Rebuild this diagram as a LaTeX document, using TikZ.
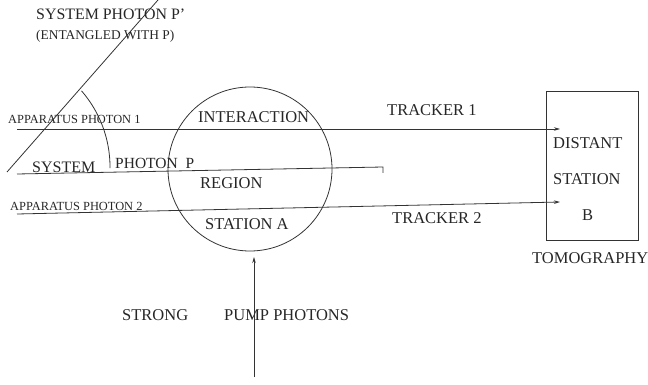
\documentclass[tikz,border=0pt]{standalone}
\usepackage{fontspec}
\setmainfont{Liberation Serif}
\usetikzlibrary{arrows.meta}
\begin{document}
\begin{tikzpicture}[x=1pt,y=-1pt,
  lbl/.style={anchor=base west,inner sep=0pt,font=\fontsize{16.5}{18}\selectfont,text=black!85},
  small/.style={anchor=base west,inner sep=0pt,font=\fontsize{12.4}{14}\selectfont,text=black!85},
  ln/.style={draw=black!80,line width=0.8pt},
  arr/.style={ln,-{Stealth[length=6pt,width=3.5pt]}}]
\useasboundingbox (0,0) rectangle (648,385);
% circle and box
\node[circle,draw=black!80,line width=0.8pt,minimum size=164pt,inner sep=0pt] (region) at (250,169) {};
\node[rectangle,draw=black!80,line width=0.8pt,minimum width=92pt,minimum height=149pt,inner sep=0pt] (boxB) at (592,165.5) {};
% coordinates
\coordinate (a1s) at (17,129);
\coordinate (a1e) at (560,129);
\coordinate (sps) at (17,174);
\coordinate (spe) at (383,167);
\coordinate (spt) at (383,173);
\coordinate (a2s) at (17,214);
\coordinate (a2e) at (560,202);
\coordinate (ds) at (7,172);
\coordinate (de) at (158,0);
\coordinate (ps) at (254,377);
\coordinate (pe) at (254,257);
% lines
\draw[arr] (a1s) -- (a1e);
\draw[ln] (sps) -- (spe) -- (spt);
\draw[arr] (a2s) -- (a2e);
\draw[ln] (ds) -- (de);
\draw[ln] plot[domain=-0.5:41,samples=40,smooth] ({-6+116*cos(\x)},{167-116*sin(\x)});
\draw[arr] (ps) -- (pe);
% labels
\node[anchor=base west,inner sep=0pt,font=\fontsize{15.9}{18}\selectfont,text=black!85] (t1) at (36,19.5) {SYSTEM PHOTON P'};
\node[anchor=base west,inner sep=0pt,font=\fontsize{13.4}{15}\selectfont,text=black!85] (t2) at (36,40) {(ENTANGLED WITH P)};
\node[small] (t3) at (8,124) {APPARATUS PHOTON 1};
\node[lbl,font=\fontsize{16}{18}\selectfont] (t4) at (32,172) {SYSTEM};
\node[lbl,font=\fontsize{15.5}{18}\selectfont] (t5) at (115,168) {PHOTON\ \ P};
\node[small] (t6) at (10,211) {APPARATUS PHOTON 2};
\node[lbl] (t7) at (198,123) {INTERACTION};
\node[lbl] (t8) at (200,189) {REGION};
\node[lbl] (t9) at (205,229) {STATION A};
\node[lbl] (t10) at (387,116) {TRACKER 1};
\node[lbl] (t11) at (392,223) {TRACKER 2};
\node[lbl] (t12) at (553,149) {DISTANT};
\node[lbl] (t13) at (553,185) {STATION};
\node[lbl] (t14) at (582,220) {B};
\node[lbl] (t15) at (532,263) {TOMOGRAPHY};
\node[lbl] (t16) at (122,320) {STRONG};
\node[lbl] (t17) at (224,320) {PUMP PHOTONS};
\end{tikzpicture}
\end{document}
